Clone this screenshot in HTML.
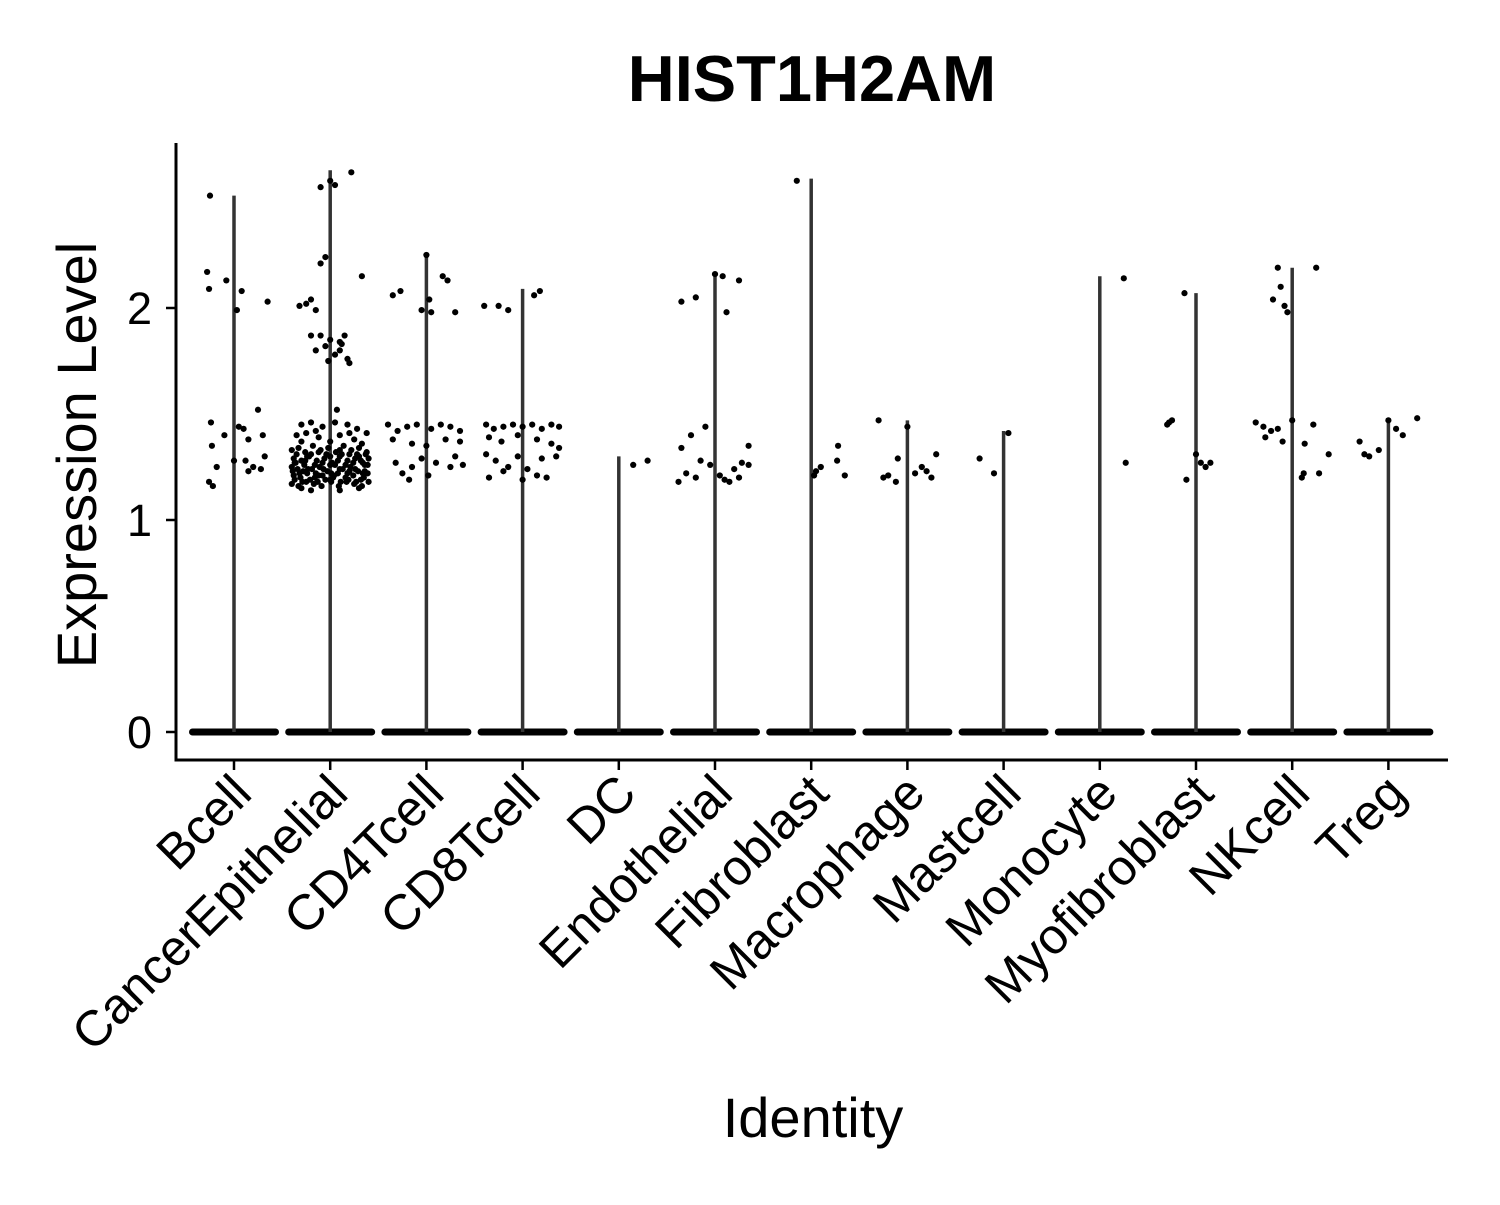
<!DOCTYPE html>
<html><head><meta charset="utf-8"><style>
body{margin:0;background:#fff}
svg text{font-family:"Liberation Sans",Arial,sans-serif}
</style></head><body>
<svg id="chart" width="1500" height="1200" viewBox="0 0 1500 1200" xmlns="http://www.w3.org/2000/svg">
<text x="812" y="101" text-anchor="middle" font-size="65" font-weight="bold">HIST1H2AM</text>
<g id="plot"></g>
<text transform="translate(96,455) rotate(-90)" text-anchor="middle" font-size="56">Expression Level</text>
<text x="813" y="1137" text-anchor="middle" font-size="56">Identity</text>
</svg>
<script>
const categories=["Bcell","CancerEpithelial","CD4Tcell","CD8Tcell","DC","Endothelial","Fibroblast","Macrophage","Mastcell","Monocyte","Myofibroblast","NKcell","Treg"];
const maxValues=[2.53,2.65,2.26,2.09,1.30,2.17,2.61,1.47,1.42,2.15,2.07,2.19,1.48];
const yTicks=[0,1,2];
const yTickLabels=["0","1","2"];
const points=[
[[-0.25,2.53],[-0.28,2.17],[-0.26,2.09],[-0.08,2.13],[0.03,1.99],[0.08,2.08],[0.35,2.03],[-0.24,1.46],[-0.23,1.35],[-0.26,1.18],[-0.22,1.16],[-0.18,1.25],[-0.1,1.40],[0.05,1.44],[0.1,1.43],[0.15,1.38],[0.25,1.52],[0.3,1.40],[0.32,1.30],[0.2,1.25],[0.15,1.23],[0.28,1.24],[0.0,1.28],[0.12,1.28]],
[[-0.1,2.57],[0.0,2.60],[0.05,2.58],[0.22,2.64],[-0.1,2.21],[-0.05,2.24],[0.33,2.15],[-0.32,2.01],[-0.25,2.02],[-0.2,2.04],[-0.15,1.99],[-0.2,1.87],[-0.1,1.87],[0.0,1.85],[0.1,1.84],[0.15,1.87],[-0.15,1.80],[-0.05,1.82],[0.05,1.78],[0.1,1.80],[0.18,1.76],[-0.02,1.75],[0.2,1.74],[0.12,1.83],
[0.07,1.52],[-0.3,1.45],[-0.2,1.46],[-0.08,1.44],[0.05,1.46],[0.18,1.45],[0.28,1.43],[0.38,1.41],[-0.35,1.40],[-0.25,1.41],[-0.12,1.39],[0.1,1.40],[0.25,1.38],[0.33,1.36],
[-0.4,1.33],[-0.33,1.34],[-0.26,1.32],[-0.18,1.35],[-0.1,1.33],[-0.02,1.34],[0.06,1.32],[0.14,1.35],[0.22,1.33],[0.3,1.34],[0.38,1.32],
[-0.38,1.29],[-0.3,1.28],[-0.22,1.30],[-0.14,1.28],[-0.06,1.29],[0.02,1.27],[0.1,1.30],[0.18,1.28],[0.26,1.29],[0.34,1.27],[0.4,1.29],
[-0.4,1.25],[-0.34,1.24],[-0.27,1.26],[-0.19,1.24],[-0.11,1.25],[-0.03,1.23],[0.05,1.26],[0.13,1.24],[0.21,1.25],[0.29,1.23],[0.36,1.26],
[-0.38,1.21],[-0.31,1.20],[-0.24,1.22],[-0.16,1.20],[-0.08,1.21],[0.0,1.19],[0.08,1.22],[0.16,1.20],[0.24,1.21],[0.32,1.19],[0.39,1.22],
[-0.4,1.17],[-0.33,1.16],[-0.25,1.18],[-0.17,1.17],[-0.09,1.16],[0.01,1.18],[0.09,1.16],[0.17,1.18],[0.25,1.17],[0.33,1.16],[0.4,1.18],
[-0.36,1.27],[-0.28,1.23],[-0.2,1.31],[-0.12,1.21],[-0.04,1.31],[0.04,1.21],[0.12,1.31],[0.2,1.23],[0.28,1.31],[0.36,1.23],[-0.3,1.37],[0.0,1.37],[0.2,1.41],[-0.15,1.42],[0.1,1.14],[-0.2,1.14],
[-0.37,1.19],[-0.29,1.18],[-0.21,1.19],[-0.13,1.18],[-0.05,1.19],[0.03,1.20],[0.11,1.18],[0.19,1.19],[0.27,1.18],[0.35,1.20],
[-0.39,1.23],[-0.32,1.22],[-0.23,1.24],[-0.15,1.22],[-0.07,1.24],[0.01,1.22],[0.1,1.24],[0.18,1.22],[0.26,1.24],[0.34,1.22],
[-0.37,1.27],[-0.26,1.28],[-0.16,1.26],[-0.08,1.27],[0.0,1.26],[0.08,1.28],[0.16,1.26],[0.24,1.27],[0.32,1.28],[0.39,1.26],
[-0.35,1.31],[-0.24,1.30],[-0.12,1.32],[0.0,1.30],[0.1,1.33],[0.2,1.31],[0.3,1.30],[0.37,1.31],[-0.3,1.15],[0.3,1.15]],
[[0.0,2.25],[-0.35,2.06],[-0.27,2.08],[0.03,2.04],[0.17,2.15],[0.22,2.13],[-0.05,1.99],[0.05,1.98],[0.3,1.98],[-0.4,1.45],[-0.3,1.42],[-0.2,1.44],[-0.1,1.45],[0.05,1.43],[0.15,1.45],[0.25,1.44],[0.35,1.42],[-0.35,1.38],[-0.15,1.36],[0.0,1.35],[0.2,1.38],[0.35,1.37],[-0.32,1.27],[-0.25,1.22],[-0.15,1.25],[-0.05,1.29],[0.1,1.27],[0.25,1.25],[0.38,1.26],[-0.18,1.19],[0.02,1.21],[0.3,1.30]],
[[-0.4,2.01],[-0.25,2.01],[-0.15,1.99],[0.12,2.06],[0.18,2.08],[-0.38,1.45],[-0.3,1.43],[-0.2,1.44],[-0.1,1.45],[0.0,1.44],[0.1,1.45],[0.2,1.43],[0.3,1.45],[0.38,1.44],[-0.35,1.39],[-0.22,1.37],[-0.05,1.40],[0.15,1.38],[0.3,1.36],[-0.38,1.31],[-0.28,1.28],[-0.15,1.25],[-0.05,1.30],[0.05,1.24],[0.2,1.29],[0.35,1.30],[-0.35,1.20],[-0.2,1.23],[0.0,1.19],[0.15,1.21],[0.25,1.20],[0.38,1.34]],
[[0.15,1.26],[0.3,1.28]],
[[-0.35,2.03],[-0.2,2.05],[0.0,2.16],[0.08,2.15],[0.12,1.98],[0.25,2.13],[-0.1,1.44],[-0.35,1.34],[-0.25,1.40],[-0.3,1.22],[-0.38,1.18],[-0.15,1.28],[-0.05,1.26],[0.05,1.21],[0.1,1.19],[0.15,1.18],[0.2,1.24],[0.28,1.27],[0.35,1.35],[0.35,1.26],[0.25,1.20],[-0.2,1.20]],
[[-0.15,2.60],[0.05,1.23],[0.1,1.25],[0.28,1.35],[0.35,1.21],[0.27,1.28],[0.03,1.21]],
[[-0.3,1.47],[-0.2,1.21],[-0.25,1.20],[-0.12,1.18],[-0.1,1.29],[0.0,1.44],[0.08,1.22],[0.15,1.25],[0.2,1.23],[0.25,1.20],[0.3,1.31]],
[[-0.25,1.29],[-0.1,1.22],[0.05,1.41]],
[[0.25,2.14],[0.27,1.27]],
[[-0.3,1.45],[-0.28,1.46],[-0.25,1.47],[-0.12,2.07],[-0.1,1.19],[0.0,1.31],[0.05,1.27],[0.1,1.25],[0.15,1.27]],
[[-0.38,1.46],[-0.3,1.44],[-0.28,1.39],[-0.22,1.42],[-0.2,2.04],[-0.15,2.19],[-0.12,2.10],[-0.08,2.01],[-0.05,1.98],[-0.1,1.37],[0.0,1.47],[0.1,1.20],[0.12,1.22],[0.13,1.36],[0.22,1.45],[0.25,2.19],[0.28,1.22],[0.38,1.31],[-0.15,1.43]],
[[-0.3,1.37],[-0.25,1.31],[-0.2,1.30],[-0.1,1.33],[0.0,1.47],[0.08,1.43],[0.15,1.40],[0.3,1.48]]
];
const NS='http://www.w3.org/2000/svg';
const plot=document.getElementById('plot');
const L=176,R=1448,T=143,B=760;
const yScale=v=>732-v*212;
const xScale=i=>234+i*96.2;
function mk(t,a){const e=document.createElementNS(NS,t);for(const k in a)e.setAttribute(k,a[k]);plot.appendChild(e);return e;}
categories.forEach((c,i)=>{
  const x=xScale(i);
  const band=mk('rect',{x:x-45,y:yScale(0)-3.5,width:90,height:7,rx:3.5,fill:'#000'});
  
  
  const ln=mk('line',{x1:x,x2:x,y1:yScale(0),y2:yScale(maxValues[i]),stroke:'#333','stroke-width':3.5});
  
  
  points[i].forEach(p=>{
    const d=mk('circle',{cx:x+p[0]*96,cy:yScale(p[1]),r:3.1,fill:'#000'});
    
    
  });
  const tk=mk('line',{x1:x,x2:x,y1:B,y2:B+10,stroke:'#000','stroke-width':2.5});
  
  
  const tl=mk('text',{transform:`translate(${x+20},${B+36}) rotate(-45)`,'text-anchor':'end','font-size':'50'});
  tl.textContent=c;
  
  
});
yTicks.forEach((v,i)=>{
  const tk=mk('line',{x1:L-10,x2:L,y1:yScale(v),y2:yScale(v),stroke:'#000','stroke-width':2.5});
  
  
  const tl=mk('text',{x:L-24,y:yScale(v)+16,'text-anchor':'end','font-size':'45'});
  tl.textContent=yTickLabels[i];
  
  
});
const ax=mk('path',{d:`M${L},${T} V${B} H${R}`,fill:'none',stroke:'#000','stroke-width':3});


</script>
</body></html>
